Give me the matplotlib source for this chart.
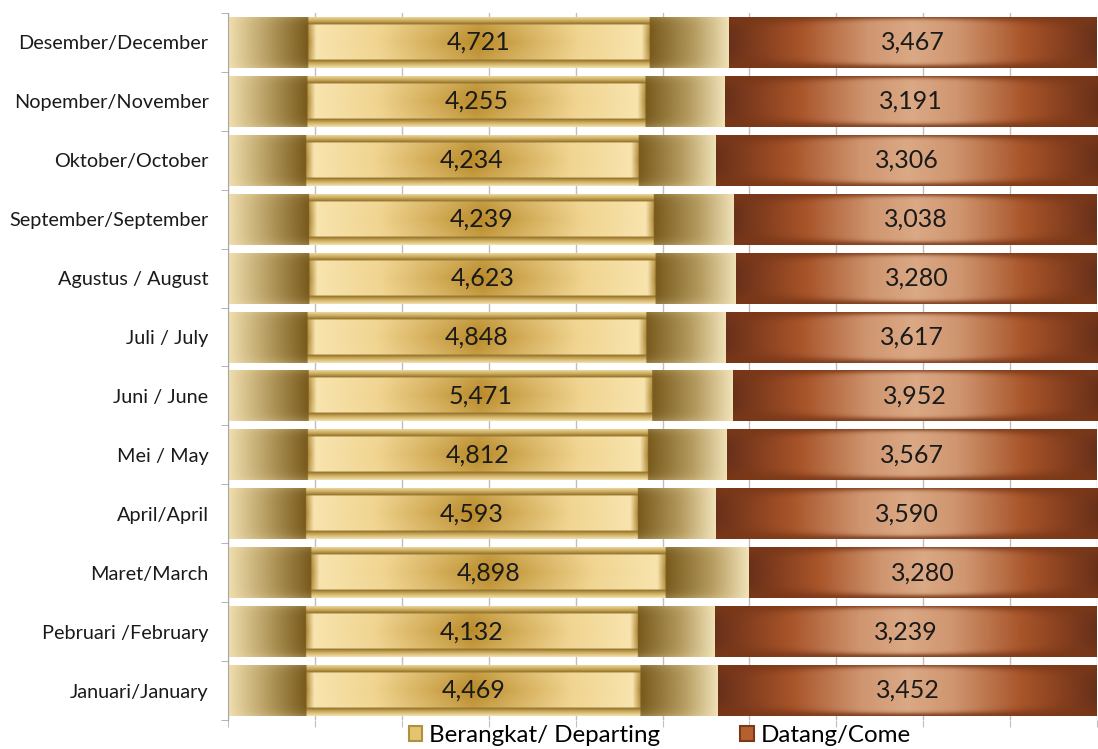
import numpy as np
import matplotlib
matplotlib.use("Agg")
import matplotlib.pyplot as plt
from matplotlib.colors import to_rgb
from matplotlib.patches import Rectangle

plt.rcParams['font.family'] = ['Lato', 'DejaVu Sans']

months = ["Januari/January", "Pebruari /February", "Maret/March", "April/April",
          "Mei / May", "Juni / June", "Juli / July", "Agustus / August",
          "September/September", "Oktober/October", "Nopember/November",
          "Desember/December"]
departing = [4469, 4132, 4898, 4593, 4812, 5471, 4848, 4623, 4239, 4234, 4255, 4721]
coming = [3452, 3239, 3280, 3590, 3567, 3952, 3617, 3280, 3038, 3306, 3191, 3467]
series_names = ["Berangkat/ Departing", "Datang/Come"]


def interp_profile(x, stops):
    pos = [s[0] for s in stops]
    cols = np.array([to_rgb(s[1]) for s in stops])
    return np.stack([np.interp(x, pos, cols[:, i]) for i in range(3)], axis=-1)


def departing_image(H=80, W=400):
    x = np.linspace(0, 1, W)
    y = np.linspace(0, 1, H)
    X, Y = np.meshgrid(x, y)
    outer = interp_profile(X, [(0, '#f0deae'), (0.08, '#b59b5f'), (0.155, '#7a5c1e'),
                               (0.5, '#b08a3a'),
                               (0.845, '#7a5c1e'), (0.93, '#b59b5f'), (1, '#f0e2b8')])
    dyo = np.abs(Y - 0.5) * 2
    outer = outer * (1 - 0.25 * dyo[..., None] ** 6) + np.array(to_rgb('#f2e2b4')) * 0.25 * dyo[..., None] ** 6
    band = interp_profile(Y, [(0, '#f0dfae'), (0.08, '#cfae5e'), (0.16, '#8a6a25'),
                              (0.84, '#8a6a25'), (0.92, '#cfae5e'), (1, '#f0dfae')])
    inner = interp_profile(X, [(0.16, '#b08a3a'), (0.175, '#f8e4ae'), (0.3, '#f0d38e'),
                               (0.5, '#b98a28'), (0.7, '#f0d38e'), (0.825, '#f8e4ae'),
                               (0.84, '#b08a3a')])
    vy = 1 - np.abs(2 * (Y - 0.5) / 0.68)
    vy = np.clip(vy, 0, 1)
    inner = inner * (0.8 + 0.2 * vy[..., None]) + np.array(to_rgb('#f6e3ab')) * (0.2 - 0.2 * vy[..., None])
    img = outer.copy()
    in_x = (X >= 0.16) & (X <= 0.84)
    img[in_x] = band[in_x]
    inside = in_x & (Y >= 0.16) & (Y <= 0.84)
    img[inside] = inner[inside]
    return np.clip(img, 0, 1)


def coming_image(H=80, W=400):
    x = np.linspace(0, 1, W)
    y = np.linspace(0, 1, H)
    X, Y = np.meshgrid(x, y)
    base = interp_profile(X, [(0, '#68301a'), (0.1, '#8a4220'), (0.2, '#a9552a'),
                              (0.38, '#cf9670'), (0.5, '#dba985'), (0.62, '#cf9670'),
                              (0.8, '#a9552a'), (0.9, '#8a4220'), (1, '#68301a')])
    dark = np.array(to_rgb('#7a3818'))
    dx = np.abs(X - 0.5) * 2
    d_edge = np.minimum(Y, 1 - Y)
    t = 0.06 + 0.16 * dx ** 2
    w = np.exp(-(d_edge / t) ** 2) * 0.85
    img = base * (1 - w[..., None]) + dark * w[..., None]
    return np.clip(img, 0, 1)


dep_img = departing_image()
com_img = coming_image()

totals = np.array(departing) + np.array(coming)
dep_frac = np.array(departing) / totals
com_frac = np.array(coming) / totals
ypos = np.arange(len(months))

fig = plt.figure(figsize=(10.98, 7.49), dpi=100)
ax = fig.add_axes([0.2077, 0.0387, 0.7915, 0.944])

bar_h = 0.866
ax.barh(ypos, dep_frac, height=bar_h, color='none', edgecolor='none', zorder=1)
ax.barh(ypos, com_frac, left=dep_frac, height=bar_h, color='none', edgecolor='none', zorder=1)

for i in range(len(months)):
    for left, width, img in [(0, dep_frac[i], dep_img), (dep_frac[i], com_frac[i], com_img)]:
        rect = Rectangle((left, ypos[i] - bar_h / 2), width, bar_h, transform=ax.transData,
                         facecolor='none', edgecolor='none')
        ax.add_patch(rect)
        im = ax.imshow(img, extent=(left, left + width, ypos[i] - bar_h / 2, ypos[i] + bar_h / 2),
                       aspect='auto', origin='upper', zorder=2, interpolation='bilinear')
        im.set_clip_path(rect)
    ax.text(dep_frac[i] / 2, ypos[i], f"{departing[i]:,}", ha='center', va='center',
            fontsize=18, color='#1a1a1a', zorder=3)
    ax.text(dep_frac[i] + com_frac[i] / 2, ypos[i], f"{coming[i]:,}", ha='center', va='center',
            fontsize=18, color='#1a1a1a', zorder=3)

ax.set_xlim(0, 1)
ax.set_ylim(-0.5, len(months) - 0.5)
ax.set_xticks(np.linspace(0, 1, 11))
ax.set_xticklabels([])
ax.xaxis.grid(True, color='#bfbfbf', linewidth=1, zorder=0)
ax.set_axisbelow(True)
ax.tick_params(axis='x', length=5, color='#bfbfbf', direction='out')
ax.set_yticks(ypos)
ax.set_yticklabels(months, fontsize=14.3, color='#1a1a1a')
ax.tick_params(axis='y', which='major', length=0, pad=14)
ax.set_yticks(np.arange(-0.5, len(months), 1), minor=True)
ax.tick_params(axis='y', which='minor', length=5, color='#a6a6a6', direction='out')
for s in ['top', 'right', 'bottom']:
    ax.spines[s].set_visible(False)
ax.spines['left'].set_color('#a6a6a6')

handles = [Rectangle((0, 0), 1, 1, facecolor='#e2c471', edgecolor='#b09040', linewidth=1.5),
           Rectangle((0, 0), 1, 1, facecolor='#b5602e', edgecolor='#7a3a18', linewidth=1.5)]
fig.legend(handles, series_names, loc='lower center', bbox_to_anchor=(0.601, -0.025), ncol=2,
           frameon=False, fontsize=17.4, handlelength=0.55, handleheight=0.55,
           handletextpad=0.3, columnspacing=3.3)

fig.savefig("out.png", dpi=100)
